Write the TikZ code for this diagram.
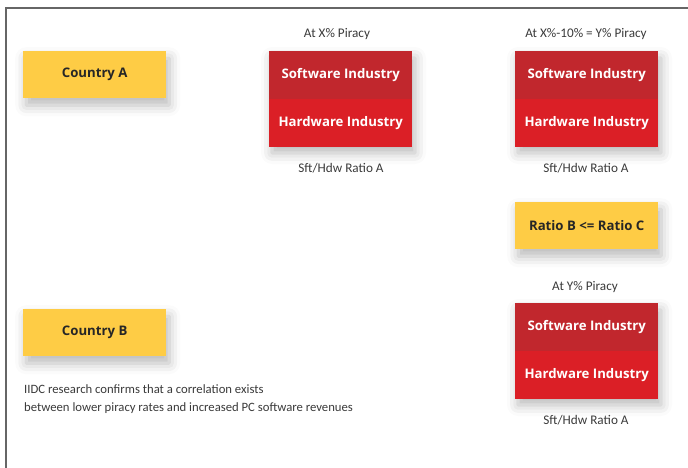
\documentclass[tikz,border=0pt]{standalone}
\usepackage{fontspec}
\setmainfont{Open Sans}
\newfontfamily\labelfont{Carlito}
\usetikzlibrary{shadows.blur}
\definecolor{yel}{HTML}{FECC45}
\definecolor{swred}{HTML}{C1272D}
\definecolor{hwred}{HTML}{DB1F26}
\definecolor{txtdark}{HTML}{262626}
\definecolor{lbltxt}{HTML}{3A3A3A}
\definecolor{framecol}{HTML}{666666}
\tikzset{
  softshadow/.style={blur shadow={shadow xshift=3pt, shadow yshift=-7pt, shadow blur radius=11pt, shadow opacity=28}},
  ybox/.style={fill=yel, minimum width=143pt, minimum height=47pt, inner sep=0pt, anchor=north west,
    font=\bfseries\fontsize{13.2}{15}\selectfont, text=txtdark, softshadow},
  rbox/.style={minimum width=143pt, minimum height=47.5pt, inner sep=0pt,
    font=\bfseries\fontsize{13.2}{15}\selectfont, text=white},
  swbox/.style={rbox, fill=swred, anchor=north west},
  hwbox/.style={rbox, fill=hwred, anchor=north},
  lbl/.style={font=\labelfont\fontsize{13.2}{15}\selectfont, text=lbltxt, inner sep=0pt},
}
\begin{document}
\begin{tikzpicture}[x=1pt,y=-1pt]
\useasboundingbox (0,0) rectangle (688,468);
\draw[framecol, line width=2pt] (6,469) -- (6,8) -- (689,8);

% Country boxes
\node[ybox] (ca) at (23,51) {Country A};
\node[ybox] (cb) at (23,309) {Country B};
\node[ybox] (ratio) at (515,202) {Ratio B <= Ratio C};

% Middle stack
\path[softshadow, fill=swred] (269,51) rectangle (412,146);
\node[swbox] (sw1) at (269,51) {Software Industry};
\node[hwbox] (hw1) at (sw1.south) {Hardware Industry};

% Right stack
\path[softshadow, fill=swred] (515,51) rectangle (658,146);
\node[swbox] (sw2) at (515,51) {Software Industry};
\node[hwbox] (hw2) at (sw2.south) {Hardware Industry};

% Bottom stack
\path[softshadow, fill=swred] (515,303) rectangle (658,398);
\node[swbox] (sw3) at (515,303) {Software Industry};
\node[hwbox] (hw3) at (sw3.south) {Hardware Industry};

% Labels
\node[lbl] (t1) at (337,34.5) {At X\% Piracy};
\node[lbl] (t2) at (586,34.5) {At X\%-10\% = Y\% Piracy};
\node[lbl] (b1) at (341,168) {Sft/Hdw Ratio A};
\node[lbl] (b2) at (586,168) {Sft/Hdw Ratio A};
\node[lbl] (t3) at (585,287.5) {At Y\% Piracy};
\node[lbl] (b3) at (586,420) {Sft/Hdw Ratio A};

% Paragraph
\node[lbl, anchor=north west, align=left, font=\labelfont\fontsize{12.7}{18}\selectfont] (para) at (24,384.5)
  {IIDC research confirms that a correlation exists\\between lower piracy rates and increased PC software revenues};
\end{tikzpicture}
\end{document}
